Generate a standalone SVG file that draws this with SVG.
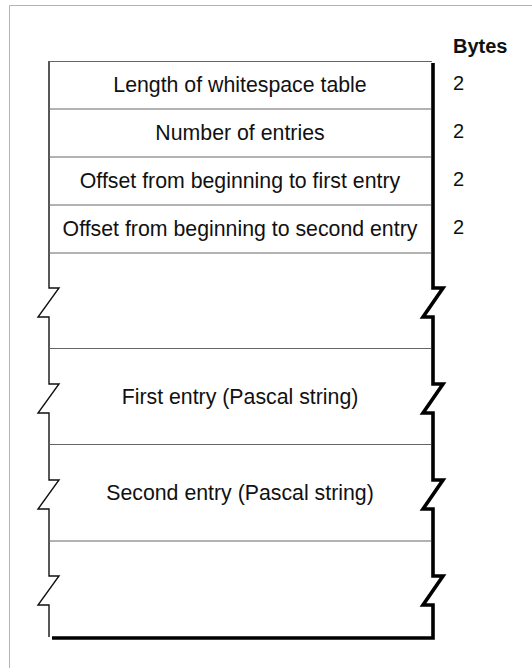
<svg xmlns="http://www.w3.org/2000/svg" width="532" height="668" viewBox="0 0 532 668">
<style>
.t{font-family:"Liberation Sans",Arial,Helvetica,sans-serif;font-size:21.3px;fill:#111;text-anchor:middle}
.n{font-family:"Liberation Sans",Arial,Helvetica,sans-serif;font-size:20px;fill:#111}
.b{font-family:"Liberation Sans",Arial,Helvetica,sans-serif;font-size:20px;font-weight:bold;fill:#111}
.row{stroke:#666;stroke-width:1;fill:none}
.thin{stroke:#111;stroke-width:1.4;fill:none}
.thick{stroke:#000;stroke-width:3.6;fill:none}
</style>
<rect x="0" y="0" width="532" height="668" fill="#fff"/>
<path d="M9.5,668 V5.5 H532" fill="none" stroke="#b4b4b4" stroke-width="1"/>
<g id="connectors">
<path class="thin" d="M49,61 V288 H59 L38,317 H49 V384 H59 L38,413 H49 V480 H59 L38,509 H49 V576 H59 L38,605 H49 V637"/>
<path class="row" d="M49,61.5 H432"/>
<path class="thick" d="M433,63 V288 H443 L423,317 H433 V384 H443 L423,413 H433 V480 H443 L423,509 H433 V576 H443 L423,605 H433 V638 H52"/>
</g>
<g id="header"><text class="b" x="453" y="53">Bytes</text></g>
<g id="row1"><path class="row" d="M49,109 H431"/><text class="t" x="240" y="92">Length of whitespace table</text><text class="n" x="453" y="90">2</text></g>
<g id="row2"><path class="row" d="M49,157 H431"/><text class="t" x="240" y="140">Number of entries</text><text class="n" x="453" y="138">2</text></g>
<g id="row3"><path class="row" d="M49,205 H431"/><text class="t" x="240" y="188">Offset from beginning to first entry</text><text class="n" x="453" y="186">2</text></g>
<g id="row4"><path class="row" d="M49,253 H431"/><text class="t" x="240" y="236">Offset from beginning to second entry</text><text class="n" x="453" y="234">2</text></g>
<g id="row5"><path class="row" d="M49,348.5 H431"/></g>
<g id="row6"><path class="row" d="M49,444.5 H431"/><text class="t" x="240" y="404">First entry (Pascal string)</text></g>
<g id="row7"><path class="row" d="M49,541 H431"/><text class="t" x="240" y="500">Second entry (Pascal string)</text></g>
<g id="row8"></g>
</svg>
